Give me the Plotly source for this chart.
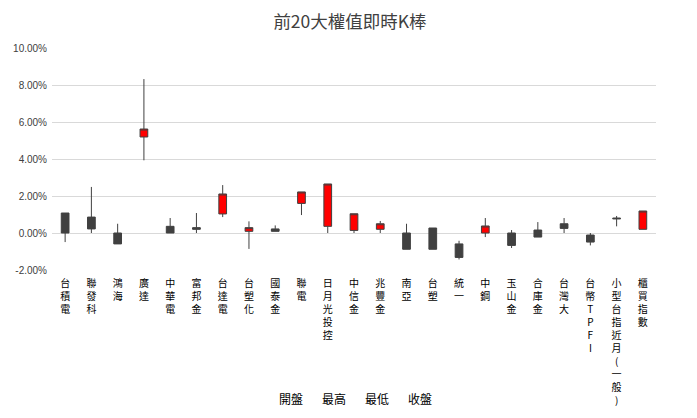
import plotly.graph_objects as go

names = ["台積電", "聯發科", "鴻海", "廣達", "中華電", "富邦金", "台達電", "台塑化",
         "國泰金", "聯電", "日月光投控", "中信金", "兆豐金", "南亞", "台塑", "統一",
         "中鋼", "玉山金", "合庫金", "台灣大", "台幣TPFI", "小型台指近月(一般)", "櫃買指數"]
open_ = [1.08, 0.86, 0.00, 5.19, 0.36, 0.29, 1.03, 0.09, 0.22, 1.60, 0.36, 0.14, 0.20,
         0.00, 0.27, -0.59, 0.00, 0.00, 0.16, 0.50, -0.11, 0.81, 0.20]
high = [1.08, 2.49, 0.50, 8.32, 0.81, 1.08, 2.59, 0.63, 0.41, 2.22, 2.65, 1.04, 0.65,
        0.50, 0.27, -0.42, 0.81, 0.16, 0.59, 0.81, 0.00, 0.92, 1.19]
low = [-0.49, 0.00, -0.59, 3.93, 0.00, 0.00, 0.86, -0.86, 0.09, 0.97, 0.00, 0.00, 0.00,
       -0.88, -0.88, -1.43, -0.22, -0.81, -0.22, 0.00, -0.67, 0.36, 0.20]
close = [0.00, 0.22, -0.59, 5.62, 0.00, 0.20, 2.11, 0.29, 0.09, 2.22, 2.65, 1.04, 0.50,
         -0.88, -0.88, -1.32, 0.38, -0.67, -0.22, 0.25, -0.49, 0.77, 1.19]
legend_names = ["開盤", "最高", "最低", "收盤"]
y_ticks = [-2, 0, 2, 4, 6, 8, 10]

def vert(s):
    parts = []
    i = 0
    while i < len(s):
        if s[i:i+4] == "TPFI":
            parts.extend(list("TPFI"))
            i += 4
        else:
            parts.append(s[i])
            i += 1
    return "<br>".join(parts)

fig = go.Figure()
fig.add_trace(go.Candlestick(
    x=names, open=open_, high=high, low=low, close=close,
    increasing=dict(fillcolor="#FF0000", line=dict(color="#404040", width=1)),
    decreasing=dict(fillcolor="#404040", line=dict(color="#404040", width=1)),
    whiskerwidth=0, showlegend=False, hoverinfo="skip",
))

for i, nm in enumerate(legend_names):
    fig.add_annotation(text=nm, xref="paper", yref="paper",
                       x=(291 + i * 43 - 52) / 604, y=-(398 - 270) / 222,
                       showarrow=False, xanchor="center", yanchor="middle",
                       font=dict(size=12, color="#000000", family="Noto Sans CJK TC"))

fig.update_layout(
    width=689, height=410,
    margin=dict(l=44, r=41, t=40, b=148),
    paper_bgcolor="white", plot_bgcolor="white",
    boxgap=0.58,
    title=dict(text="前20大權值即時K棒", x=(350 - 52) / 604, xanchor="center",
               xref="paper", yref="container", y=1 - 14 / 410, yanchor="middle",
               font=dict(size=17.5, color="#404040", family="Noto Sans CJK TC")),
    font=dict(family="Noto Sans CJK TC"),
)
fig.update_xaxes(
    type="category", rangeslider=dict(visible=False), automargin=False,
    tickvals=names, ticktext=[vert(n) for n in names], tickangle=0,
    tickfont=dict(size=10, color="#000000", family="Noto Sans CJK TC"),
    ticks="outside", ticklen=4, tickcolor="rgba(0,0,0,0)",
    showgrid=False, showline=False, zeroline=False,
)
fig.update_yaxes(
    range=[-2, 10], tickvals=y_ticks, ticktext=[f"{v:.2f}%" for v in y_ticks],
    automargin=False,
    tickfont=dict(size=10, color="#404040", family="Liberation Sans"),
    ticks="outside", ticklen=2, tickcolor="rgba(0,0,0,0)",
    showgrid=True, gridcolor="#D9D9D9", gridwidth=1,
    zeroline=True, zerolinecolor="#D9D9D9", zerolinewidth=1,
    showline=False,
)
fig.write_html("out.html")
